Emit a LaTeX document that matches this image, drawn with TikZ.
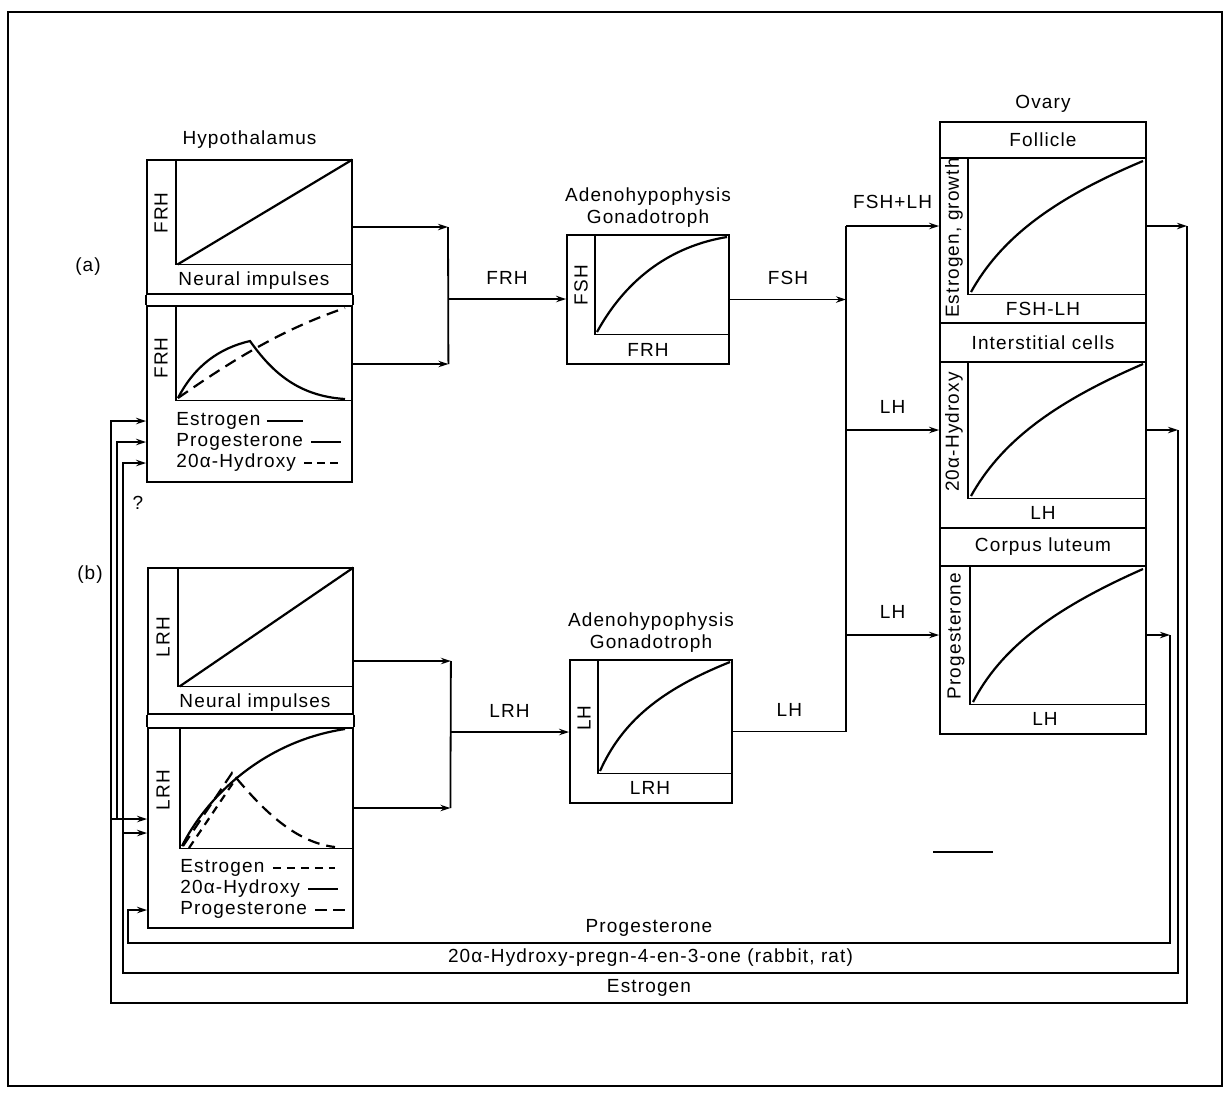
\documentclass[tikz,border=0pt]{standalone}
\usepackage{fontspec}
\setmainfont[LetterSpace=6]{Liberation Sans}
\usetikzlibrary{arrows.meta, positioning, fit}
\tikzset{
  frame/.style={
    rectangle, draw, line width=0.9pt, inner sep=0pt
  },
  area/.style={
    rectangle, inner sep=0pt
  },
  lbl/.style={
    inner sep=1pt, font=\fontsize{9.5}{11}\selectfont
  },
  ylbl/.style={lbl, rotate=90},
  axis/.style={line width=0.9pt},
  curve/.style={line width=1.1pt},
  dcurve/.style={curve, dash pattern=on 6pt off 3.5pt},
  arrow/.style={-{Stealth[length=5pt, width=3.2pt]}, line width=0.9pt},
  fb/.style={line width=0.9pt}
}
\begin{document}
\begin{tikzpicture}[x=0.5pt, y=-0.5pt]
  \useasboundingbox (0,0) rectangle (1230,1100);
  \draw[line width=1.4pt] (8,12) rectangle (1222,1086);

  \node[lbl] (tagA) at (88,267) {(a)};
  \node[lbl] (tagB) at (90,575) {(b)};

  % hypothalamus (a)
  \node[frame, fit={(147,160) (352,294)}] (hypAup) {};
  \node[frame, fit={(147,306) (352,482)}] (hypAlo) {};
  \draw[axis] (hypAup.south west) -- (hypAlo.north west)
              (hypAup.south east) -- (hypAlo.north east);
  \node[lbl, above=4pt of hypAup] (hypTitle) {Hypothalamus};
  \node[area, fit={(176,160) (352,264)}] (plotA1) {};
  \draw[axis] (plotA1.north west) -- (plotA1.south west) -- (plotA1.south east);
  \draw[curve] ([xshift=1pt]plotA1.south west) -- (plotA1.north east);
  \node[ylbl] (yA1) at (161,213) {FRH};
  \node[lbl] (xA1) at (254,281) {Neural impulses};
  \node[area, fit={(176,306) (352,400)}] (plotA2) {};
  \draw[axis] (plotA2.north west) -- (plotA2.south west) -- (plotA2.south east);
  \draw[curve] (178,398) .. controls (195,365) and (220,348) .. (250,341)
               .. controls (272,372) and (298,396) .. (345,399);
  \draw[dcurve] (178,398) .. controls (230,362) and (280,330) .. (345,308);
  \node[ylbl] (yA2) at (161,358) {FRH};
  \node[lbl, anchor=west] (legA1) at (174,421) {Estrogen};
  \node[lbl, anchor=west] (legA2) at (174,442) {Progesterone};
  \node[lbl, anchor=west] (legA3) at (174,463) {20α-Hydroxy};
  \draw[axis] ([xshift=2pt]legA1.east) -- ++(36,0);
  \draw[axis] ([xshift=3pt]legA2.east) -- ++(30,0);
  \draw[axis, dash pattern=on 4pt off 2.5pt] ([xshift=3pt]legA3.east) -- ++(34,0);
  \node[lbl] (qmark) at (138,503) {?};

  % hypothalamus (b)
  \node[frame, fit={(148,568) (353,714)}] (hypBup) {};
  \node[frame, fit={(148,728) (353,928)}] (hypBlo) {};
  \draw[axis] (hypBup.south west) -- (hypBlo.north west)
              (hypBup.south east) -- (hypBlo.north east);
  \node[area, fit={(178,568) (353,686)}] (plotB1) {};
  \draw[axis] (plotB1.north west) -- (plotB1.south west) -- (plotB1.south east);
  \draw[curve] ([xshift=1pt]plotB1.south west) -- (plotB1.north east);
  \node[ylbl] (yB1) at (163,637) {LRH};
  \node[lbl] (xB1) at (255,703) {Neural impulses};
  \node[area, fit={(180,728) (353,848)}] (plotB2) {};
  \draw[axis] (plotB2.north west) -- (plotB2.south west) -- (plotB2.south east);
  \draw[curve] (182,846) .. controls (205,800) and (260,742) .. (345,729);
  \draw[dcurve] (183,846) -- (232,773) .. controls (255,800) and (290,842) .. (335,847);
  \draw[dcurve, dash pattern=on 4pt off 3pt] (189,848) -- (237,777);
  \node[ylbl] (yB2) at (163,790) {LRH};
  \node[lbl, anchor=west] (legB1) at (178,868) {Estrogen};
  \node[lbl, anchor=west] (legB2) at (178,889) {20α-Hydroxy};
  \node[lbl, anchor=west] (legB3) at (178,910) {Progesterone};
  \draw[axis, dash pattern=on 4pt off 3pt] ([xshift=3pt]legB1.east) -- ++(62,0);
  \draw[axis] ([xshift=3pt]legB2.east) -- ++(30,0);
  \draw[axis, dash pattern=on 6pt off 3pt] ([xshift=3pt]legB3.east) -- ++(32,0);

  % adenohypophysis (a)
  \node[frame, fit={(567,235) (729,364)}] (adA) {};
  \node[lbl, align=center, above=2pt of adA] (adATitle) {Adenohypophysis\\Gonadotroph};
  \node[area, fit={(595,235) (729,334)}] (adAp) {};
  \draw[axis] (adAp.north west) -- (adAp.south west) -- (adAp.south east);
  \draw[curve] (597,332) .. controls (620,290) and (660,248) .. (727,237);
  \node[ylbl] (yAdA) at (581,285) {FSH};
  \node[lbl] (xAdA) at (648,350) {FRH};

  % adenohypophysis (b)
  \node[frame, fit={(570,660) (732,803)}] (adB) {};
  \node[lbl, align=center, above=2pt of adB] (adBTitle) {Adenohypophysis\\Gonadotroph};
  \node[area, fit={(598,660) (732,773)}] (adBp) {};
  \draw[axis] (adBp.north west) -- (adBp.south west) -- (adBp.south east);
  \draw[curve] (600,771) .. controls (622,722) and (660,690) .. (730,662);
  \node[ylbl] (yAdB) at (584,718) {LH};
  \node[lbl] (xAdB) at (650,788) {LRH};

  % ovary
  \node[frame, fit={(940,122) (1146,158)}] (folHead) {};
  \node[lbl] (folName) at (folHead) {Follicle};
  \node[lbl, above=3pt of folHead] (ovTitle) {Ovary};
  \node[frame, fit={(940,158) (1146,323)}] (folBox) {};
  \node[area, fit={(968,158) (1146,294)}] (folPlot) {};
  \draw[axis] (folPlot.north west) -- (folPlot.south west) -- (folPlot.south east);
  \draw[curve] (971,292) .. controls (1000,240) and (1050,200) .. (1143,161);
  \node[ylbl] (yFol) at (954,238) {Estrogen, growth};
  \node[lbl] (xFol) at (1043,309) {FSH-LH};

  \node[frame, fit={(940,323) (1146,362)}] (intHead) {};
  \node[lbl] (intName) at (intHead) {Interstitial cells};
  \node[frame, fit={(940,362) (1146,528)}] (intBox) {};
  \node[area, fit={(968,362) (1146,498)}] (intPlot) {};
  \draw[axis] (intPlot.north west) -- (intPlot.south west) -- (intPlot.south east);
  \draw[curve] (971,496) .. controls (1000,444) and (1050,404) .. (1143,364);
  \node[ylbl] (yInt) at (954,432) {20α-Hydroxy};
  \node[lbl] (xInt) at (1043,513) {LH};

  \node[frame, fit={(940,528) (1146,566)}] (corHead) {};
  \node[lbl] (corName) at (corHead) {Corpus luteum};
  \node[frame, fit={(940,566) (1146,734)}] (corBox) {};
  \node[area, fit={(970,566) (1146,704)}] (corPlot) {};
  \draw[axis] (corPlot.north west) -- (corPlot.south west) -- (corPlot.south east);
  \draw[curve] (973,702) .. controls (1000,650) and (1050,610) .. (1143,569);
  \node[ylbl] (yCor) at (956,636) {Progesterone};
  \node[lbl] (xCor) at (1045,719) {LH};

  % releasing hormones to the gonadotrophs
  \coordinate (jA) at (448,299);
  \draw[arrow] (hypAup.east) -- (hypAup.east -| jA);
  \draw[arrow] ([yshift=-5.5pt]plotA2.east) -- ++(96,0) coordinate (jA2);
  \draw[fb] (hypAup.east -| jA) -- (jA2);
  \draw[arrow] (jA) -- node[lbl, above=6pt] {FRH} (adA.west |- jA);

  \coordinate (jB) at (450,732);
  \draw[arrow] ([yshift=-10pt]hypBup.east) -- ++(97,0) coordinate (jB1);
  \draw[arrow] ([yshift=-10pt]plotB2.east) -- ++(97,0) coordinate (jB2);
  \draw[fb] (jB1) -- (jB2);
  \draw[arrow] (jB) -- node[lbl, above=6pt] {LRH} (adB.west |- jB);

  % gonadotrophins to the ovary
  \coordinate (jR) at (846,299);
  \draw[arrow] (adA.east) -- node[lbl, above=6pt] {FSH} (adA.east -| jR);
  \draw[fb] (adB.east) -- node[lbl, above=6pt] {LH} (adB.east -| jR)
            -- (jR |- folPlot.west);
  \draw[arrow] (jR |- folPlot.west) -- node[lbl, above=7pt] {FSH+LH} (folBox.west |- folPlot.west);
  \draw[arrow] (jR |- intPlot.west) -- node[lbl, above=7pt] {LH} (intBox.west |- intPlot.west);
  \draw[arrow] (jR |- corPlot.west) -- node[lbl, above=7pt] {LH} (corBox.west |- corPlot.west);

  % steroid feedback
  \coordinate (esR) at (1187,1003);
  \coordinate (esL) at (111,1003);
  \coordinate (hxR) at (1178,973);
  \coordinate (hxL) at (123,973);
  \coordinate (pgR) at (1170,943);
  \coordinate (pgL) at (128,943);
  \coordinate (brE) at (111,819);
  \coordinate (brH) at (123,833);
  \coordinate (vPa) at (117,819);
  \draw[arrow] (folPlot.east) -- (folPlot.east -| esR);
  \draw[arrow] (folPlot.east -| esR) -- (esR)
    -- node[lbl, above=2pt] {Estrogen} (esL) |- (hypAlo.west |- legA1);
  \draw[arrow] (brE) -- (hypBlo.west |- brE);
  \draw[arrow] (vPa) |- (hypAlo.west |- legA2);
  \draw[arrow] (intPlot.east) -- (intPlot.east -| hxR);
  \draw[arrow] (intPlot.east -| hxR) -- (hxR)
    -- node[lbl, above=2pt] {20α-Hydroxy-pregn-4-en-3-one (rabbit, rat)} (hxL)
    |- (hypAlo.west |- legA3);
  \draw[arrow] (brH) -- (hypBlo.west |- brH);
  \draw[arrow] (corPlot.east) -- (corPlot.east -| pgR);
  \draw[arrow] (corPlot.east -| pgR) -- (pgR)
    -- node[lbl, above=2pt] {Progesterone} (pgL) |- (hypBlo.west |- legB3);
  \draw[line width=0.6pt] (933,852) -- (993,852);
\end{tikzpicture}
\end{document}
